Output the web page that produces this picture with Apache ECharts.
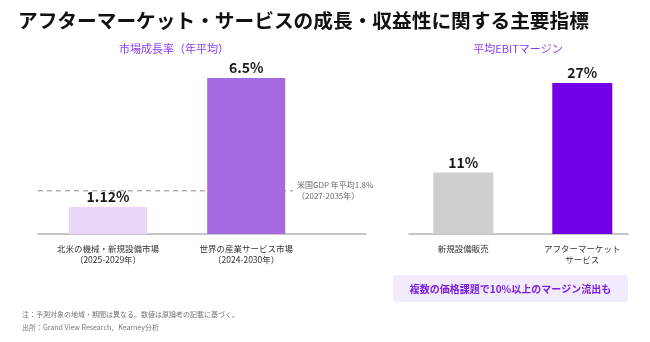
<!DOCTYPE html>
<html>
<head>
<meta charset="utf-8">
<script src="https://cdn.jsdelivr.net/npm/echarts@6/dist/echarts.min.js"></script>
<style>
  html, body { margin: 0; padding: 0; background: #fff; }
  #chart { width: 650px; height: 342px; }
</style>
</head>
<body>
<div id="chart"></div>
<script>
// left panel: market growth (CAGR, %)
const growthCategories = ['北米の機械・新規設備市場\n（2025-2029年）', '世界の産業サービス市場\n（2024-2030年）']
const growthValues = [1.12, 6.5]
const growthLabels = ['1.12%', '6.5%']
const gdpAvg = 1.8

// right panel: average EBIT margin (%)
const marginCategories = ['新規設備販売', 'アフターマーケット\nサービス']
const marginValues = [11, 27]

const FONT = '"Noto Sans CJK JP", "Noto Sans", sans-serif'
const growthColors = ['#e9d6f8', '#a56ae0']
const marginColors = ['#cfcfcf', '#7300e6']

const chart = echarts.init(document.getElementById('chart'), null, { renderer: 'canvas' })

function catAxis(gridIndex, data, show) {
	return {
		type: 'category',
		gridIndex: gridIndex,
		data: data,
		axisLine: { show: false },
		axisTick: { show: false },
		axisLabel: show
			? { show: true, margin: 9, fontFamily: FONT, fontSize: 8.5, lineHeight: 11, color: '#333' }
			: { show: false },
	}
}

function baseAxis(gridIndex) {
	return {
		type: 'category',
		gridIndex: gridIndex,
		data: [''],
		axisLine: { show: true, lineStyle: { color: '#b4b4b4', width: 1.5 } },
		axisTick: { show: false },
		axisLabel: { show: false },
	}
}

function valAxis(gridIndex, max) {
	return {
		type: 'value',
		gridIndex: gridIndex,
		min: 0,
		max: max,
		show: false,
		splitLine: { show: false },
	}
}

const option = {
	backgroundColor: '#fff',
	animation: false,
	grid: [
		{ left: 38.9, width: 276.4, top: 42, bottom: 108 },
		{ left: 38, width: 328, top: 42, bottom: 108 },
		{ left: 38, width: 255, top: 42, bottom: 108 },
		{ left: 403.8, width: 238, top: 66.2, bottom: 108 },
		{ left: 409, width: 219, top: 66.2, bottom: 108 },
	],
	xAxis: [
		catAxis(0, growthCategories, true),
		baseAxis(1),
		{ type: 'category', gridIndex: 2, data: ['', ''], boundaryGap: false, show: false },
		catAxis(3, marginCategories, true),
		baseAxis(4),
	],
	yAxis: [valAxis(0, 8), valAxis(1, 8), valAxis(2, 8), valAxis(3, 30), valAxis(4, 30)],
	series: [
		{
			type: 'bar',
			xAxisIndex: 0,
			yAxisIndex: 0,
			barWidth: 78,
			data: growthValues.map((v, i) => ({ value: v, itemStyle: { color: growthColors[i] } })),
			label: {
				show: true,
				position: 'top',
				distance: 3,
				fontFamily: FONT,
				fontSize: 14,
				fontWeight: 'bold',
				color: '#1a1a1a',
				formatter: (p) => growthLabels[p.dataIndex],
			},
			z: 3,
		},
		{
			type: 'line',
			xAxisIndex: 2,
			yAxisIndex: 2,
			data: [gdpAvg, gdpAvg],
			symbol: 'none',
			lineStyle: { color: '#8a8a8a', width: 1, type: [5, 4] },
			endLabel: {
				show: true,
				distance: 4,
				fontFamily: FONT,
				fontSize: 8,
				lineHeight: 11,
				color: '#666',
				formatter: '米国GDP 年平均' + gdpAvg + '%\n（2027-2035年）',
			},
			z: 1,
		},
		{
			type: 'bar',
			xAxisIndex: 3,
			yAxisIndex: 3,
			barWidth: 60,
			data: marginValues.map((v, i) => ({ value: v, itemStyle: { color: marginColors[i] } })),
			label: {
				show: true,
				position: 'top',
				distance: 3,
				fontFamily: FONT,
				fontSize: 14,
				fontWeight: 'bold',
				color: '#1a1a1a',
				formatter: '{c}%',
			},
		},
	],
	graphic: [
		{
			type: 'text',
			left: 18,
			top: 11,
			style: { text: 'アフターマーケット・サービスの成長・収益性に関する主要指標', font: 'bold 19.7px ' + FONT, fill: '#111' },
		},
		{
			type: 'text',
			x: 174,
			y: 49,
			style: { text: '市場成長率（年平均）', font: '11px ' + FONT, fill: '#8a3cf0', align: 'center', verticalAlign: 'middle' },
		},
		{
			type: 'text',
			x: 518,
			y: 49,
			style: { text: '平均EBITマージン', font: '11px ' + FONT, fill: '#8a3cf0', align: 'center', verticalAlign: 'middle' },
		},
		{
			type: 'rect',
			shape: { x: 393, y: 275, width: 235, height: 27, r: 3 },
			style: { fill: '#f2eafd' },
		},
		{
			type: 'text',
			x: 510.5,
			y: 289,
			style: { text: '複数の価格課題で10%以上のマージン流出も', font: 'bold 10px ' + FONT, fill: '#7a1fe0', align: 'center', verticalAlign: 'middle' },
		},
		{
			type: 'text',
			x: 22,
			y: 314,
			style: { text: '注：予測対象の地域・期間は異なる。数値は原論考の記載に基づく。', font: '7px ' + FONT, fill: '#777', verticalAlign: 'middle' },
		},
		{
			type: 'text',
			x: 22,
			y: 327,
			style: { text: '出所：Grand View Research、Kearney分析', font: '7px ' + FONT, fill: '#777', verticalAlign: 'middle' },
		},
	],
}

chart.setOption(option)
</script>
</body>
</html>
